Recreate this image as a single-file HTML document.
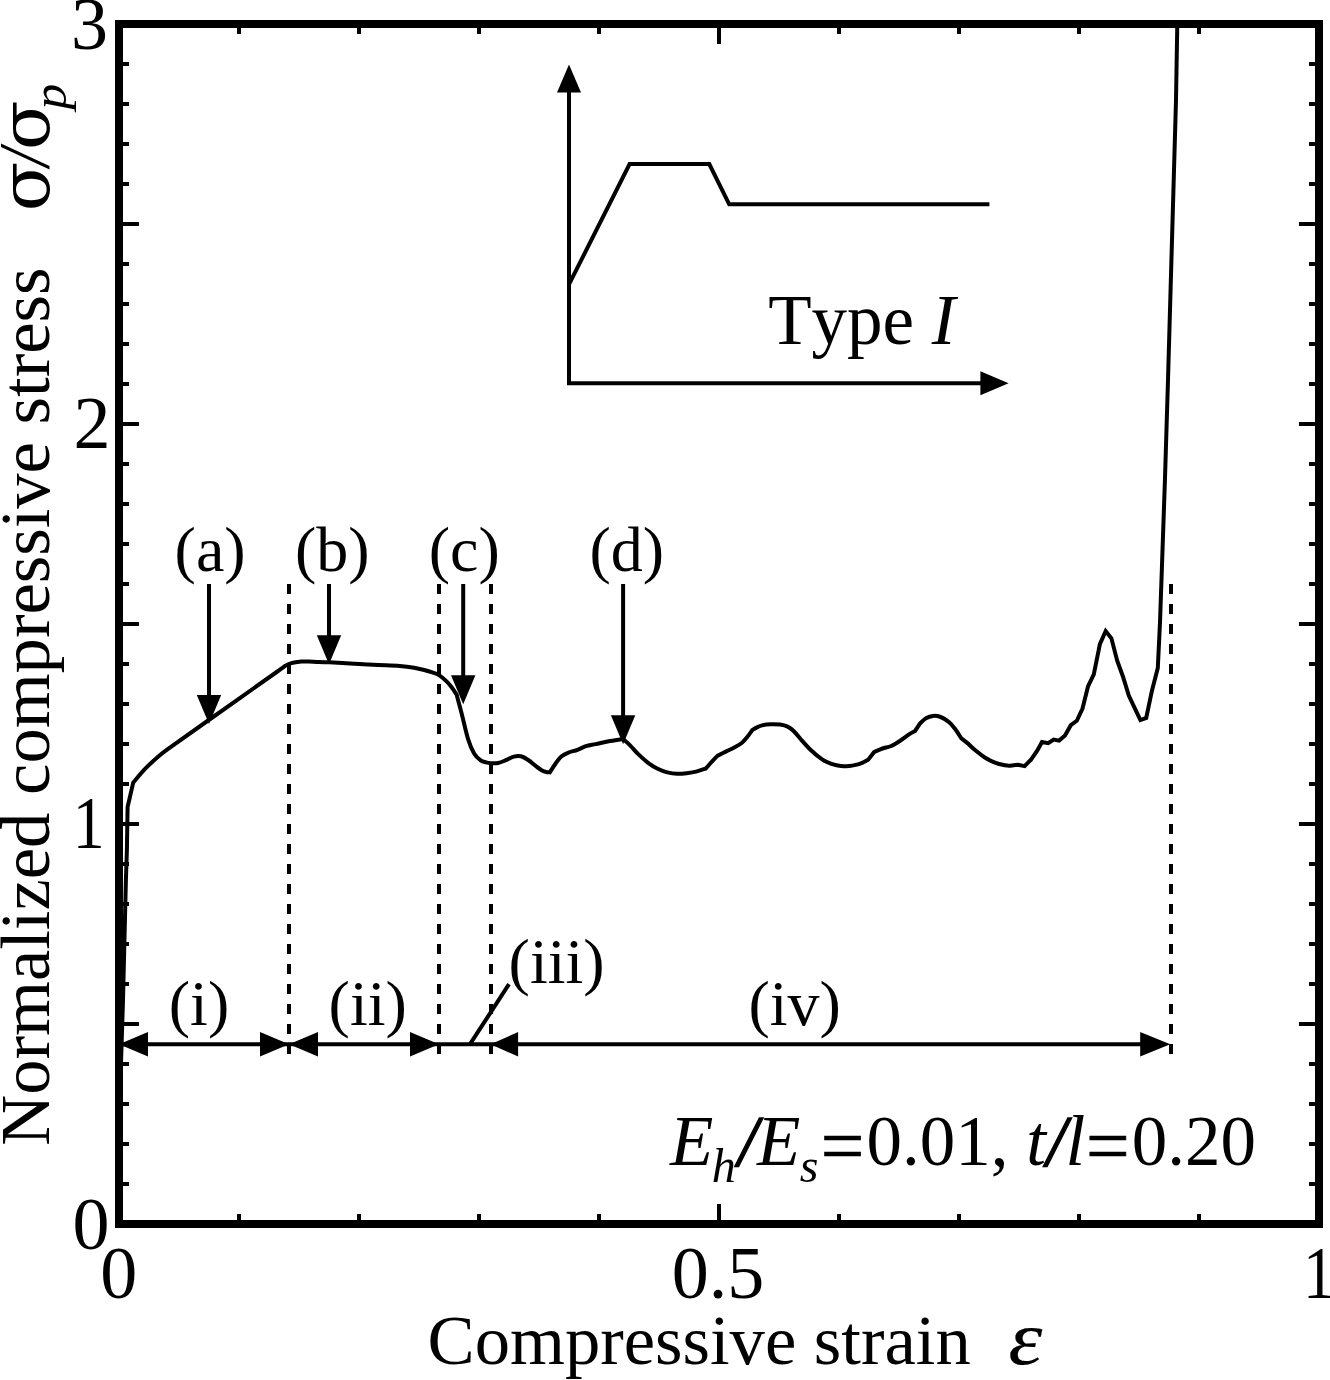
<!DOCTYPE html>
<html lang="en">
<head>
<meta charset="utf-8">
<title>Normalized compressive stress vs compressive strain</title>
<style>
html,body{margin:0;padding:0;background:#fff;}
body{width:1330px;height:1380px;overflow:hidden;}
svg{display:block;}
text{font-family:"Liberation Serif","DejaVu Serif",serif;fill:#000;font-kerning:none;}
.t{font-size:71px;}
.a{font-size:64px;}
.d{font-size:74px;}
.l{font-size:70.6px;}
.sl{stroke:#000;stroke-width:1.4px;}
.eq{font-size:77.4px;stroke:#000;stroke-width:0.7px;}
.sg{font-family:"DejaVu Serif",serif;font-size:71px;}
.i{font-style:italic;}
.sub{font-size:48px;font-style:italic;}
.ln{fill:none;stroke:#000;stroke-width:4;}
.fl{fill:#000;stroke:none;}
.ds{fill:none;stroke:#000;stroke-width:4;stroke-dasharray:10 10;}
</style>
</head>
<body>
<svg width="1330" height="1380" viewBox="0 0 1330 1380">
<rect x="0" y="0" width="1330" height="1380" fill="#fff"/>
<!-- frame and ticks -->
<rect x="119" y="24" width="1200" height="1200" fill="none" stroke="#000" stroke-width="8"/>
<path d="M239 1224v-10M239 24v10M359 1224v-10M359 24v10M479 1224v-10M479 24v10M599 1224v-10M599 24v10M719 1224v-20M719 24v20M839 1224v-10M839 24v10M959 1224v-10M959 24v10M1079 1224v-10M1079 24v10M1199 1224v-10M1199 24v10M119 1184h10M1319 1184h-10M119 1144h10M1319 1144h-10M119 1104h10M1319 1104h-10M119 1064h10M1319 1064h-10M119 1024h20M1319 1024h-20M119 984h10M1319 984h-10M119 944h10M1319 944h-10M119 904h10M1319 904h-10M119 864h10M1319 864h-10M119 824h20M1319 824h-20M119 784h10M1319 784h-10M119 744h10M1319 744h-10M119 704h10M1319 704h-10M119 664h10M1319 664h-10M119 624h20M1319 624h-20M119 584h10M1319 584h-10M119 544h10M1319 544h-10M119 504h10M1319 504h-10M119 464h10M1319 464h-10M119 424h20M1319 424h-20M119 384h10M1319 384h-10M119 344h10M1319 344h-10M119 304h10M1319 304h-10M119 264h10M1319 264h-10M119 224h20M1319 224h-20M119 184h10M1319 184h-10M119 144h10M1319 144h-10M119 104h10M1319 104h-10M119 64h10M1319 64h-10" class="ln"/>
<!-- data curve -->
<path d="M119 1224L121.1 1060L123 1000L125.9 880L126.9 850L127.3 825L127.6 807L133.2 782.6C135.0 780.5 140.3 773.8 144.1 769.8C147.9 765.8 152.1 762.1 156.1 758.6C160.1 755.1 159.3 755.3 168.1 748.9C176.9 742.5 190.6 732.9 208.8 720C227.0 707.1 264.8 680.5 277.4 671.5C290.0 662.5 282.7 667.5 284.6 666.3C286.5 665.0 287.2 664.6 288.8 664C290.4 663.4 292.1 662.9 294.2 662.5C296.3 662.1 299.0 661.8 301.4 661.6C303.8 661.4 305.8 661.4 308.6 661.4C311.4 661.4 314.9 661.8 318.3 661.9C321.7 662.0 325.1 662.1 329.1 662.3C333.1 662.5 337.2 662.7 342.3 663C347.4 663.3 354.1 663.7 360 664C365.9 664.3 371.4 664.7 378 665C384.6 665.3 393.7 665.4 399.7 665.9C405.7 666.4 410.0 667.0 414.2 667.7C418.4 668.4 422.0 669.4 425 670.2C428.0 671.0 429.9 671.6 432.2 672.4C434.5 673.2 436.6 673.6 439 675.1C441.4 676.6 444.4 679.3 446.6 681.4C448.8 683.5 450.3 685.6 452 687.8C453.7 690.0 455.8 693.5 456.6 694.6C457.5 698.0 460.1 707.5 462 714.9C463.9 722.3 466.0 732.5 468 738.9C470.0 745.3 472.0 749.8 474.1 753.4C476.2 757.0 478.7 758.9 480.7 760.4C482.7 761.9 484.4 761.9 486.1 762.4C487.8 762.9 488.9 763.1 490.9 763.2C492.9 763.3 495.7 763.5 498.1 763C500.5 762.5 502.7 761.5 505.3 760.4C507.9 759.3 511.2 757.3 513.8 756.6C516.4 755.9 518.6 755.7 521 756.3C523.4 756.9 525.8 758.4 528.2 760C530.6 761.6 533.0 763.9 535.4 765.7C537.8 767.5 540.8 769.8 542.6 770.8C544.4 771.8 545.0 771.7 546.2 772C547.4 772.3 549.2 772.3 549.8 772.4C550.8 770.8 554.0 765.7 555.9 763C557.8 760.3 559.3 758.1 561.3 756.4C563.3 754.7 565.2 753.9 567.9 752.8C570.6 751.7 574.5 750.9 577.5 749.8C580.5 748.7 582.9 747.2 585.9 746.2C588.9 745.2 591.8 744.9 595.6 744.1C599.4 743.3 604.1 742.1 608.7 741.2C613.3 740.4 620.6 739.4 623 739C624.2 740.0 627.5 742.7 630.1 745.3C632.7 747.9 635.5 751.5 638.5 754.4C641.5 757.3 644.9 760.4 648.1 762.8C651.3 765.2 654.5 767.2 657.7 768.8C660.9 770.4 664.2 771.6 667.4 772.4C670.6 773.2 673.8 773.7 677 773.8C680.2 773.9 683.4 773.6 686.6 773.2C689.8 772.8 693.0 772.4 696.2 771.6C699.4 770.8 704.3 769.0 705.9 768.5C706.9 767.4 709.9 763.7 711.9 761.6C713.9 759.5 716.7 756.7 717.7 755.7C719.1 755.0 723.5 752.8 726.3 751.4C729.1 750.0 732.1 748.7 734.7 747.2C737.3 745.8 740.0 744.3 742 742.7C744.0 741.1 745.1 739.6 746.8 737.5C748.5 735.4 751.5 731.2 752.4 730C753.1 729.6 754.8 728.4 756.4 727.6C758.0 726.8 759.6 726.0 762 725.4C764.4 724.8 767.7 724.3 770.7 724.2C773.7 724.1 777.4 724.2 780.2 724.6C783.0 725.0 785.3 725.5 787.6 726.6C789.9 727.7 791.5 728.9 793.9 731.2C796.3 733.5 799.2 737.5 802 740.6C804.8 743.7 807.3 746.8 810.7 750C814.1 753.2 818.9 757.2 822.5 759.6C826.1 762.0 829.3 763.1 832.4 764.2C835.5 765.3 838.2 765.8 841 766.1C843.8 766.4 846.4 766.2 849.1 766C851.8 765.8 854.8 765.1 857 764.6C859.2 764.1 860.3 763.7 862.2 762.9C864.1 762.1 867.2 760.2 868.2 759.7L874.2 752C875.6 751.4 879.7 749.5 882.5 748.5C885.3 747.5 888.2 747.3 891.2 746C894.2 744.7 897.5 742.4 900.5 740.5C903.5 738.6 906.6 736.0 909 734.4C911.4 732.8 913.9 731.6 914.9 731.1L920.1 723.4C921.1 722.5 923.9 719.5 926 718.3C928.1 717.0 930.6 716.1 933 715.9C935.4 715.7 937.9 716.0 940.6 717C943.3 718.0 946.7 720.1 949.2 722.2C951.7 724.3 953.7 727.1 955.7 729.7C957.7 732.3 960.1 736.6 961 738C962.0 738.8 964.8 740.9 967.2 742.9C969.6 744.9 972.3 747.8 975.3 750.3C978.3 752.8 981.8 755.6 985.2 757.7C988.6 759.8 992.4 761.6 995.7 762.9C999.0 764.2 1002.6 764.8 1005 765.3C1007.4 765.8 1007.8 765.8 1010 765.7C1012.2 765.6 1016.7 764.9 1018 764.8L1024.6 766.1L1031 759.6L1037.2 750.6L1042 742L1048.2 743.1L1053.7 739.6L1059.1 740.6L1065 735.5L1070.8 725.2L1076.8 720.8L1082.5 708.6L1088 686.5L1093.8 674.3L1099.9 644.1L1105.7 631L1111.4 638.3L1117.2 660.7L1123 676.7L1128.8 695.5L1134.6 707.8L1140.4 720.1L1146.2 718L1152 690.4L1157.8 668L1160 622.3L1162 565L1165 478L1168 380L1176 100L1177.3 24" fill="none" stroke="#000" stroke-width="4" stroke-linejoin="miter" stroke-miterlimit="3"/>
<!-- dashed region boundaries -->
<path d="M289 584V1054M439 584V1054M491 584V1054M1171 584V1054" class="ds"/>
<!-- point arrows -->
<path d="M209 584V696" class="ln"/><path d="M196.8 695H221.2L209 724Z" class="fl"/>
<path d="M329 584V636.2" class="ln"/><path d="M316.8 635.2H341.2L329 664.2Z" class="fl"/>
<path d="M463.2 584V676.2" class="ln"/><path d="M451.0 675.2H475.4L463.2 704.2Z" class="fl"/>
<path d="M623.1 584V716.3" class="ln"/><path d="M610.9 715.3H635.3000000000001L623.1 744.3Z" class="fl"/>
<!-- region arrows -->
<path d="M119 1044.2H1150" class="ln"/>
<path d="M148 1032.1V1056.5L119 1044.3Z" class="fl"/><path d="M260 1032.1V1056.5L289 1044.3Z" class="fl"/><path d="M318 1032.1V1056.5L289 1044.3Z" class="fl"/><path d="M410 1032.1V1056.5L439 1044.3Z" class="fl"/><path d="M518.1 1032.1V1056.5L490.5 1044.3Z" class="fl"/><path d="M1140.2 1032.1V1056.5L1170.2 1044.3Z" class="fl"/>
<path d="M470 1044.2L509 984.2" class="ln"/>
<!-- inset schematic -->
<path d="M569 90V383.2H982" class="ln" stroke-linejoin="miter"/>
<path d="M557 92.6H581L569 64.4Z" class="fl"/>
<path d="M980.4 371.2V395.2L1008.6 383.2Z" class="fl"/>
<path d="M569 284.4L629.6 164.1H709.3L729.2 204.3H989.4" class="ln"/>
<text class="t" x="768.2" y="344">Type <tspan class="i">I</tspan></text>
<!-- axis tick labels -->
<text class="d" x="118.8" y="1297.6" text-anchor="middle">0</text>
<text class="d" x="718" y="1297.6" text-anchor="middle">0.5</text>
<text class="d" transform="translate(1318.8,1297.6) scale(0.86,1)" text-anchor="middle">1</text>
<text class="d" x="109.5" y="1249.2" text-anchor="end">0</text>
<text class="d" transform="translate(104.6,848.2) scale(0.86,1)" text-anchor="end">1</text>
<text class="d" x="110.5" y="448.2" text-anchor="end">2</text>
<text class="d" x="108" y="48.6" text-anchor="end">3</text>
<!-- point labels -->
<text class="a" x="174.6" y="571">(a)</text>
<text class="a" x="294.9" y="571">(b)</text>
<text class="a" x="428.7" y="571">(c)</text>
<text class="a" x="589.4" y="571">(d)</text>
<!-- region labels -->
<text class="a" x="168.8" y="1024.5">(i)</text>
<text class="a" x="328.6" y="1024.5">(ii)</text>
<text class="a" x="508.6" y="983">(iii)</text>
<text class="a" x="748.4" y="1024.5">(iv)</text>
<!-- parameter annotation -->
<text class="t" y="1164.6"><tspan class="i" x="670">E</tspan><tspan class="sub" x="711.8" dy="17">h</tspan><tspan class="i sl" x="738" dy="-17">/</tspan><tspan class="i" x="757">E</tspan><tspan class="sub" x="799.8" dy="17">s</tspan><tspan class="eq" x="820.7" dy="-9.4">=</tspan><tspan x="866.4" dy="-7.6">0.01, </tspan><tspan class="i" x="1026.2">t</tspan><tspan class="i sl" x="1046.4">/</tspan><tspan class="i" x="1065.6">l</tspan><tspan class="eq" x="1086.1" dy="7.6">=</tspan><tspan x="1131.7" dy="-7.6">0.20</tspan></text>
<!-- axis titles -->
<text class="l" x="427.6" y="1363.6">Compressive strain</text>
<text class="t i" transform="translate(1008.4,1363.8) scale(1.13,1)" style="font-size:76px;stroke:#000;stroke-width:0.2px">ε</text>
<text class="l" transform="translate(49.3,1145.8) rotate(-90)">Normalized compressive stress</text>
<text class="sg" transform="translate(49.2,211.6) rotate(-90) scale(1.03,0.97)">σ</text>
<text class="t i" transform="translate(48,166.6) rotate(-90) scale(0.91,1)" style="font-size:71.4px">/</text>
<text class="sg" transform="translate(49.2,150.2) rotate(-90) scale(1.03,0.97)">σ</text>
<text class="sub" transform="translate(66.3,109.6) rotate(-90) scale(1.08,1)">p</text>
</svg>
</body>
</html>
